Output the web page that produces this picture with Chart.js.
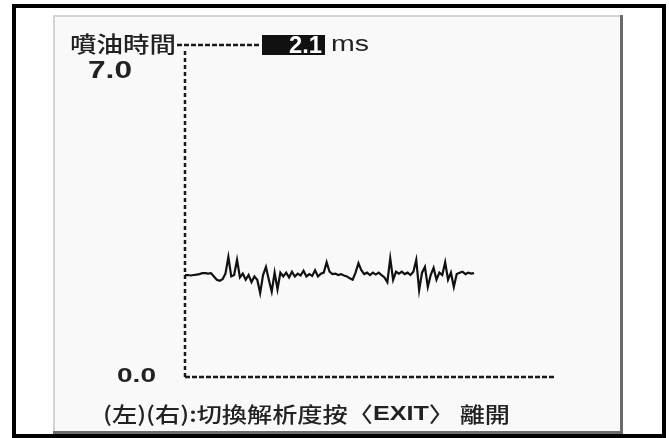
<!DOCTYPE html>
<html>
<head>
<meta charset="utf-8">
<script src="https://cdn.jsdelivr.net/npm/chart.js@4.4.0/dist/chart.umd.min.js"></script>
<style>
  html, body { margin: 0; padding: 0; background: #fff; overflow: hidden; }
  #wrap { position: relative; width: 669px; height: 438px; }
</style>
</head>
<body>
<div id="wrap"><canvas id="injChart" width="669" height="438"></canvas></div>
<script>
// injection time samples (ms)
const injTime = [2.15, 2.15, 2.14, 2.15, 2.16, 2.17, 2.19, 2.19, 2.18, 2.19,
  2.12, 2.05, 2.03, 2.06, 2.18, 2.53, 2.12, 2.15, 2.47, 2.10,
  2.18, 2.05, 2.15, 2.00, 2.12, 2.05, 1.77, 2.15, 2.32, 2.05,
  1.80, 2.20, 1.85, 2.20, 2.12, 2.20, 2.10, 2.22, 2.12, 2.18,
  2.14, 2.24, 2.12, 2.17, 2.13, 2.25, 2.12, 2.18, 2.20, 2.42,
  2.22, 2.17, 2.18, 2.15, 2.17, 2.14, 2.12, 2.08, 2.05, 2.20,
  2.40, 2.25, 2.17, 2.20, 2.15, 2.20, 2.16, 2.20, 2.15, 2.10,
  2.00, 2.50, 2.05, 2.22, 2.18, 2.22, 2.17, 2.20, 2.15, 2.22,
  2.47, 1.83, 2.20, 2.32, 1.90, 2.15, 2.30, 2.05, 2.20, 2.15,
  2.42, 2.05, 2.20, 1.90, 2.17, 2.20, 2.22, 2.17, 2.20, 2.18, 2.19];
const sampleCount = 128;      // width of the screen in samples
const yMin = 0.0;
const yMax = 7.0;
const currentValue = "2.1";
const yTickLabels = ["7.0", "0.0"];
const titleText = "噴油時間";
const unitText = "ms";
// footer split so EXIT can be bold
const footerParts = ["(左)(右):切換解析度按〈", "EXIT", "〉 離開"];

const points = injTime.map((v, i) => ({ x: i, y: v }));
const cjkFont = '500 21px "Noto Sans CJK TC"';

// draw text squeezed/stretched to a given width
function fitText(ctx, text, x, y, w, font, color) {
  ctx.save();
  ctx.font = font;
  ctx.fillStyle = color;
  ctx.textBaseline = 'middle';
  ctx.textAlign = 'left';
  const mw = ctx.measureText(text).width;
  ctx.translate(x, y);
  ctx.scale(w / mw, 1);
  ctx.fillText(text, 0, 0);
  ctx.restore();
}

function drawFooter(ctx, x, y, w) {
  const fonts = [cjkFont, 'bold 21px "Liberation Sans"', cjkFont];
  let total = 0;
  const widths = footerParts.map((t, i) => {
    ctx.font = fonts[i];
    const mw = ctx.measureText(t).width;
    total += mw;
    return mw;
  });
  const k = w / total;
  let cx = x;
  footerParts.forEach((t, i) => {
    fitText(ctx, t, cx, y, widths[i] * k, fonts[i], '#222');
    cx += widths[i] * k;
  });
}

const framePlugin = {
  id: 'frame',
  beforeDraw(chart) {
    const ctx = chart.ctx;
    ctx.save();
    ctx.fillStyle = '#fff';
    ctx.fillRect(0, 0, chart.width, chart.height);
    // outer black frame
    ctx.strokeStyle = '#000';
    ctx.lineWidth = 4;
    ctx.strokeRect(14, 6, 650, 430);
    // inner panel
    ctx.fillStyle = '#f9f9f9';
    ctx.fillRect(53, 15, 570, 419);
    ctx.fillStyle = '#d4d4d4';
    ctx.fillRect(53, 15, 570, 2);
    ctx.fillRect(53, 15, 2, 419);
    ctx.fillStyle = '#6a6a6a';
    ctx.fillRect(620, 15, 3, 419);
    ctx.fillRect(53, 431, 570, 3);
    ctx.restore();
  },
  beforeDatasetsDraw(chart) {
    // dotted axes
    const ctx = chart.ctx;
    const a = chart.chartArea;
    ctx.save();
    ctx.strokeStyle = '#1a1a1a';
    ctx.lineWidth = 2.5;
    ctx.setLineDash([4, 3]);
    ctx.beginPath();
    ctx.moveTo(a.left, a.top + 6);
    ctx.lineTo(a.left, a.bottom);
    ctx.stroke();
    ctx.setLineDash([5, 2]);
    ctx.beginPath();
    ctx.moveTo(a.left, a.bottom);
    ctx.lineTo(a.right, a.bottom);
    ctx.stroke();
    ctx.restore();
  },
  afterDraw(chart) {
    const ctx = chart.ctx;
    const ys = chart.scales.y;
    const xs = chart.scales.x;
    const topY = ys.getPixelForValue(yMax);
    const botY = ys.getPixelForValue(yMin);
    const left = xs.getPixelForValue(0);
    ctx.save();
    // title and dashed leader to value box
    fitText(ctx, titleText, 70, topY - 1, 106, '500 22px "Noto Sans CJK TC"', '#222');
    ctx.strokeStyle = '#1a1a1a';
    ctx.lineWidth = 2.5;
    ctx.setLineDash([5, 2]);
    ctx.beginPath();
    ctx.moveTo(177, topY);
    ctx.lineTo(259, topY);
    ctx.stroke();
    ctx.setLineDash([]);
    ctx.fillStyle = '#111';
    ctx.fillRect(262, topY - 10, 63, 20);
    fitText(ctx, currentValue, 289, topY + 1, 33, 'bold 24px "Liberation Sans"', '#fff');
    fitText(ctx, unitText, 331, topY, 38, '22px "Liberation Sans"', '#222');
    // y tick labels
    fitText(ctx, yTickLabels[0], 88, topY + 27, 44, 'bold 23px "Liberation Sans"', '#222');
    fitText(ctx, yTickLabels[1], left - 68, botY - 1, 39, 'bold 21px "Liberation Sans"', '#222');
    // footer
    drawFooter(ctx, 103, 414, 407);
    ctx.restore();
  }
};

new Chart(document.getElementById('injChart'), {
  type: 'line',
  data: {
    datasets: [{
      data: points,
      borderColor: '#111',
      borderWidth: 2.2,
      pointRadius: 0,
      tension: 0,
      fill: false
    }]
  },
  options: {
    responsive: false,
    animation: false,
    events: [],
    layout: { padding: { left: 185, top: 45, right: 114, bottom: 61 } },
    plugins: { legend: { display: false }, tooltip: { enabled: false } },
    scales: {
      x: {
        type: 'linear',
        min: 0,
        max: sampleCount,
        ticks: { display: false },
        grid: { display: false },
        border: { display: false },
        afterFit: s => { s.height = 0; }
      },
      y: {
        min: yMin,
        max: yMax,
        ticks: { display: false },
        grid: { display: false },
        border: { display: false },
        afterFit: s => { s.width = 0; }
      }
    }
  },
  plugins: [framePlugin]
});
</script>
</body>
</html>
